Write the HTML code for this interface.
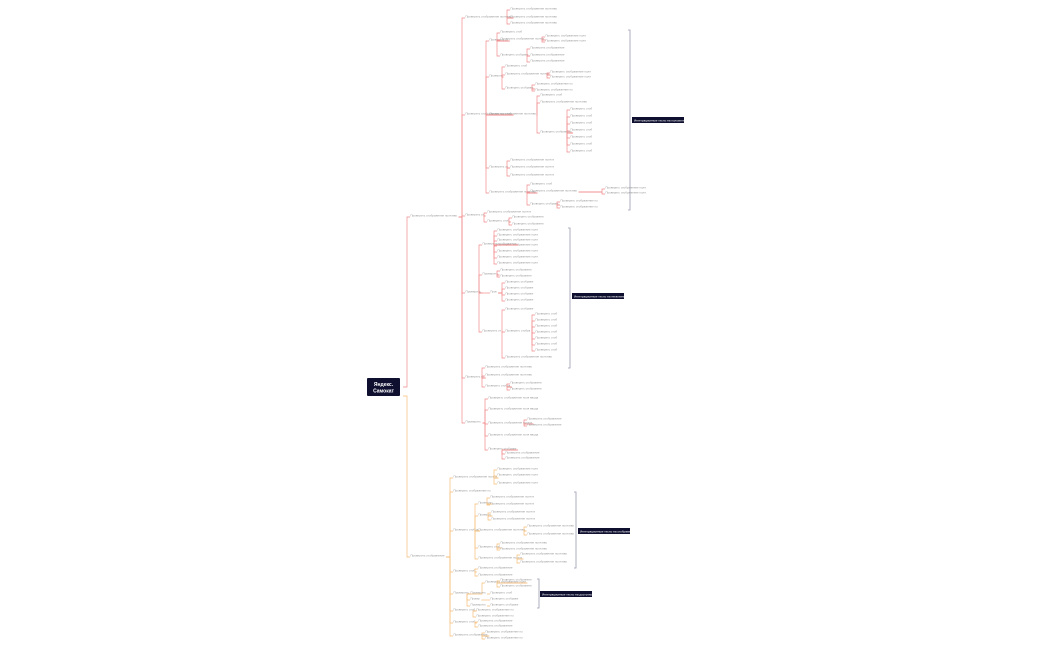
<!DOCTYPE html>
<html><head><meta charset="utf-8"><style>
html,body{margin:0;padding:0;background:#fff;width:1050px;height:650px;overflow:hidden}
svg{display:block}
text{font-family:"Liberation Sans",sans-serif}
</style></head><body>
<svg id="s" width="1050" height="650" xmlns="http://www.w3.org/2000/svg">
<rect x="367" y="378" width="33" height="18" rx="1" fill="#0f1030"/>
<text x="383.5" y="386" font-size="5" fill="#fff" text-anchor="middle" font-weight="bold">Яндекс.</text>
<text x="383.5" y="392.5" font-size="5" fill="#fff" text-anchor="middle" font-weight="bold">Самокат</text>
<g stroke="#9a9ab0" stroke-width="0.8" fill="none">
<path d="M628 30 H630 V210 H628"/><path d="M568 228 H570 V368 H568"/>
<path d="M574 492 H576 V568 H574"/><path d="M537 579 H539 V608 H537"/>
</g>
<rect x="632" y="117" width="52" height="6" fill="#0f1030"/><text x="634" y="121.5" font-size="3" fill="#fff">Интеграционные тесты на положительные</text>
<rect x="572" y="293" width="52" height="6" fill="#0f1030"/><text x="574" y="297.5" font-size="3" fill="#fff">Интеграционные тесты на негативные</text>
<rect x="578" y="528" width="52" height="6" fill="#0f1030"/><text x="580" y="532.5" font-size="3" fill="#fff">Интеграционные тесты на отображение</text>
<rect x="540" y="591" width="52" height="6" fill="#0f1030"/><text x="542" y="595.5" font-size="3" fill="#fff">Интеграционные тесты на доступность</text>
</svg>
<script>
var W="Проверить отображение поля ввода имени заказчика при вводе корректных данных в форме заказа самоката сообщение об ошибке появляется кнопка далее активна";
function T(n){return W.slice(0,n)}
var s=document.getElementById('s'),NS="http://www.w3.org/2000/svg";
function el(t,a,txt){var e=document.createElementNS(NS,t);for(var k in a)e.setAttribute(k,a[k]);if(txt)e.textContent=txt;s.appendChild(e);return e}
function draw(n,col,px,py){var x=n[0],y=n[1],len=n[2],kids=n[3]||[];
 if(px!=null){el('path',{d:'M'+px+' '+py+' H'+(x-3)+' V'+y+' H'+x,stroke:col,'stroke-width':0.7,fill:'none'})}
 var ex=x+len*1.55+2;
 var t=el('text',{x:x+0.5,y:y-0.6,'font-size':2.8,fill:'#999',textLength:Math.max(1,len*1.55),lengthAdjust:'spacingAndGlyphs'},T(len));
 kids.forEach(function(k){draw(k,col,ex,y)})}
function leaves(x,ys,len){return ys.map(function(y){return [x,y,len]})}
var red=[410,217,30,[
 [465,18,30,leaves(510,[10,18,24],30)],
 [465,115,30,[
  [489,41,12,[[500,33,14],[500,40,28,leaves(545,[37,42],26)],[500,56,18,leaves(530,[49,56,62],22)]]],
  [489,77,8,[[505,67,14],[505,75,28,leaves(550,[73,78],26)],[505,89,18,leaves(535,[85,91],24)]]],
  [489,115,30,[[540,96,14],[540,103,30],[540,133,20,leaves(570,[110,117,124,131,138,145,152],14)]]],
  [489,168,12,leaves(510,[161,168,176],28)],
  [489,193,30,[[530,185,14],[530,192,30,leaves(605,[189,194],26)],[530,205,18,leaves(560,[202,208],24)]]]]],
 [465,216,12,[[487,213,28],[487,222,14,leaves(512,[218,225],20)]]],
 [465,293,10,[
  [482,245,22,leaves(497,[231,236,241,246,252,258,264],26)],
  [482,275,10,leaves(500,[271,277],20)],
  [490,293,4,leaves(505,[283,289,295,301],18)],
  [482,332,12,[[505,310,18],[505,332,16,leaves(535,[315,321,327,333,339,345,351],14)],[505,358,30]]]]],
 [465,378,12,[[485,368,30],[485,376,30],[485,387,16,leaves(510,[384,390],20)]]],
 [465,423,10,[[488,399,32],[488,410,32],[488,424,28,leaves(527,[420,426],22)],[488,436,32],[488,450,18,leaves(505,[454,459],22)]]]
]];
draw(red,'#f08a8a',403,387);
var or=[410,557,22,[
 [453,478,28,leaves(497,[470,476,484],26)],
 [453,492,24],
 [453,531,16,[[478,504,8,leaves(490,[498,505],28)],[478,516,8,leaves(491,[513,520],28)],[478,531,30,leaves(527,[527,535],30)],[478,548,14,leaves(500,[544,550],30)],[478,559,28,leaves(520,[555,563],30)]]],
 [453,572,14,leaves(478,[569,576],22)],
 [453,594,10,[[485,583,26,leaves(500,[581,587],20)],[470,594,10,[[490,594,14]]],[470,600,6,[[490,600,18]]],[470,606,10,[[490,606,18]]]]],
 [453,611,14,leaves(476,[611,617],24)],
 [453,623,14,leaves(478,[622,627],22)],
 [453,636,22,leaves(485,[633,639],24)]
]];
draw(or,'#f5bf7a',403,396);
</script>
</body></html>
